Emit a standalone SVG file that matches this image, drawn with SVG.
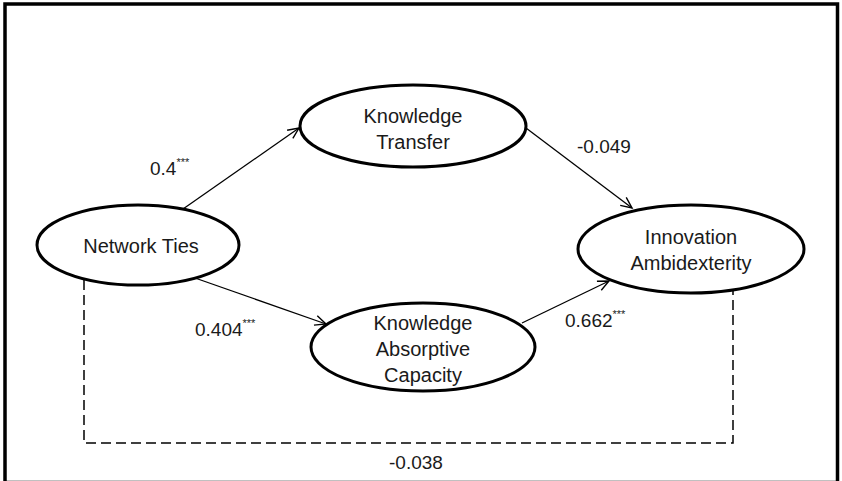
<svg xmlns="http://www.w3.org/2000/svg" width="842" height="481" viewBox="0 0 842 481">
<style>
.node ellipse{fill:#fff;stroke:#000;stroke-width:3}
text{font-family:"Liberation Sans",Arial,sans-serif;font-size:20px;fill:#1a1a1a}
.lbl{text-anchor:middle}
.num{font-size:19px}
.sup{font-size:11px}
.conn line{stroke:#000;stroke-width:1.3;marker-end:url(#arr)}
.dash{fill:none;stroke:#000;stroke-width:1.5;stroke-dasharray:10,5}
</style>
<defs>
<marker id="arr" markerWidth="14" markerHeight="12" refX="12" refY="6" orient="auto" markerUnits="userSpaceOnUse">
<path d="M1,1 L12,6 L1,11" fill="none" stroke="#000" stroke-width="1.4"/>
</marker>
</defs>
<rect x="0" y="0" width="842" height="481" fill="#fff"/>
<rect x="5" y="4" width="832.5" height="478.5" fill="none" stroke="#000" stroke-width="3.5"/>
<g id="connectors" class="conn">
<line x1="183" y1="209" x2="299" y2="128"/>
<line x1="526" y1="128" x2="632" y2="208"/>
<line x1="195" y1="278" x2="326" y2="324"/>
<line x1="522" y1="323" x2="609" y2="281"/>
<path class="dash" d="M84,280 V443 H733 V290"/>
</g>
<g id="network-ties" class="node">
<ellipse cx="138" cy="245" rx="101" ry="40"/>
<text class="lbl" x="141" y="253">Network Ties</text>
</g>
<g id="knowledge-transfer" class="node">
<ellipse cx="413" cy="126" rx="113" ry="41"/>
<text class="lbl" x="413" y="123">Knowledge</text>
<text class="lbl" x="413" y="149">Transfer</text>
</g>
<g id="knowledge-absorptive-capacity" class="node">
<ellipse cx="423" cy="347" rx="112" ry="44"/>
<text class="lbl" x="423" y="330">Knowledge</text>
<text class="lbl" x="423" y="356">Absorptive</text>
<text class="lbl" x="423" y="382">Capacity</text>
</g>
<g id="innovation-ambidexterity" class="node">
<ellipse cx="691" cy="249" rx="113" ry="44"/>
<text class="lbl" x="691" y="244">Innovation</text>
<text class="lbl" x="691" y="270">Ambidexterity</text>
</g>
<g id="labels">
<text class="num" x="150" y="175">0.4<tspan class="sup" dy="-9">***</tspan></text>
<text class="num" x="577" y="153">-0.049</text>
<text class="num" x="195" y="336">0.404<tspan class="sup" dy="-9">***</tspan></text>
<text class="num" x="565" y="327">0.662<tspan class="sup" dy="-9">***</tspan></text>
<text class="num" x="389" y="469">-0.038</text>
</g>
</svg>
